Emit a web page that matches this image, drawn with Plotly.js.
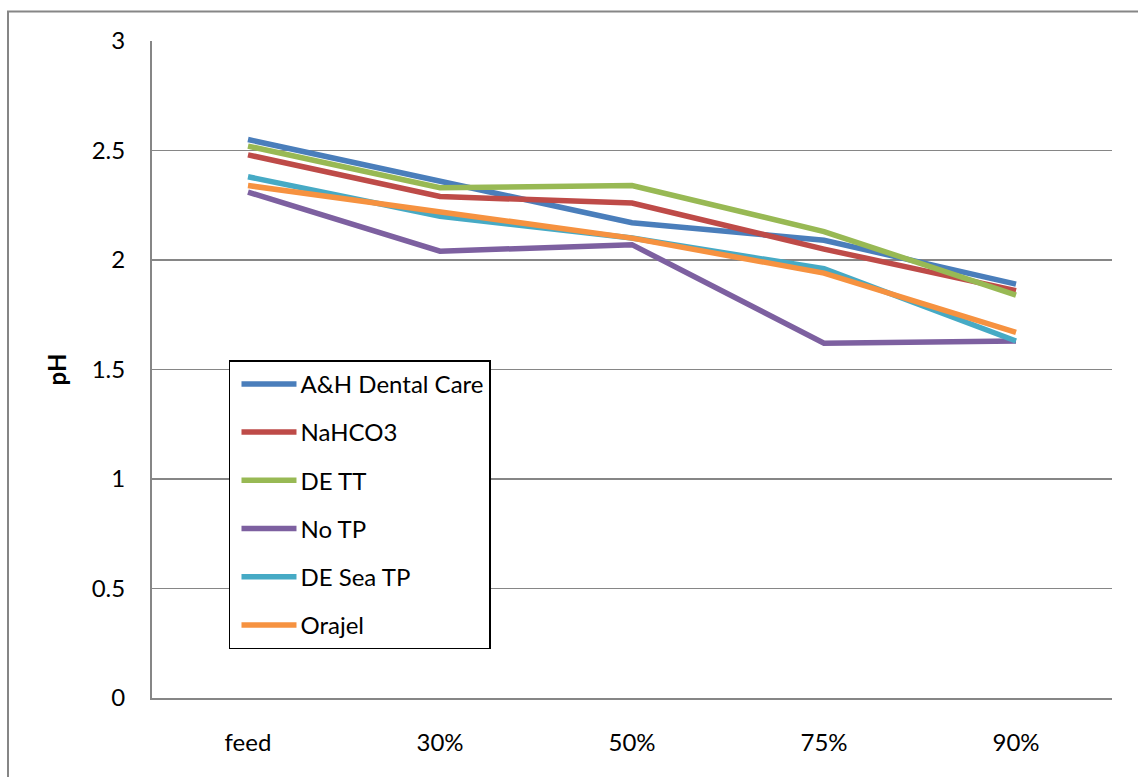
<!DOCTYPE html>
<html>
<head>
<meta charset="utf-8">
<script src="https://cdn.plot.ly/plotly-3.0.1.min.js"></script>
<style>html,body{margin:0;padding:0;background:#fff;} #chart{width:1138px;height:777px;}</style>
</head>
<body>
<div id="chart"></div>
<script>
const categories = ["feed", "30%", "50%", "75%", "90%"];
const seriesNames = ["A&H Dental Care", "NaHCO3", "DE TT", "No TP", "DE Sea TP", "Orajel"];
const ahDentalCare = [2.55, 2.36, 2.17, 2.09, 1.89];
const nahco3 = [2.48, 2.29, 2.26, 2.05, 1.86];
const deTT = [2.52, 2.33, 2.34, 2.13, 1.84];
const noTP = [2.31, 2.04, 2.07, 1.62, 1.63];
const deSeaTP = [2.38, 2.20, 2.10, 1.96, 1.63];
const orajel = [2.34, 2.22, 2.10, 1.94, 1.67];
const yTicks = [0, 0.5, 1, 1.5, 2, 2.5, 3];
const yTickText = ["0", "0.5", "1", "1.5", "2", "2.5", "3"];

const seriesValues = [ahDentalCare, nahco3, deTT, noTP, deSeaTP, orajel];
const colors = ["#4A7EBB", "#BE4B48", "#98B954", "#7D60A0", "#46AAC5", "#F69240"];

const traces = seriesValues.map((vals, i) => ({
  type: "scatter",
  mode: "lines",
  x: categories,
  y: vals,
  name: seriesNames[i],
  legendgroup: "g" + i,
  line: {color: colors[i], width: 5.5},
  hoverinfo: "x+y+name"
}));

const font = "Lato, 'Open Sans', 'Liberation Sans', sans-serif";
const layout = {
  width: 1138,
  height: 777,
  margin: {l: 152, r: 26, t: 40.5, b: 79, pad: 0},
  paper_bgcolor: "#ffffff",
  plot_bgcolor: "#ffffff",
  font: {family: font, size: 24, color: "#000000"},
  showlegend: true,
  legend: {
    x: 0.0802, y: 0.514, xanchor: "left", yanchor: "top",
    bgcolor: "#ffffff",
    bordercolor: "#000000",
    borderwidth: 1.5,
    tracegroupgap: 14,
    font: {family: font, size: 24, color: "#000000"},
    itemwidth: 60
  },
  xaxis: {
    type: "category",
    range: [-0.5, 4.5],
    showgrid: false,
    showline: true,
    linecolor: "#868686",
    linewidth: 2,
    ticks: "",
    ticklabelstandoff: 22,
    tickfont: {family: font, size: 24, color: "#000000"},
    zeroline: false,
    fixedrange: true
  },
  yaxis: {
    range: [0, 3],
    tickvals: yTicks,
    ticktext: yTickText,
    showgrid: true,
    gridcolor: "#868686",
    gridwidth: 1.5,
    showline: true,
    linecolor: "#868686",
    linewidth: 2,
    ticks: "",
    ticklabelstandoff: 20,
    zeroline: false,
    tickfont: {family: font, size: 24, color: "#000000"},
    title: {text: "<b>pH</b>", font: {family: font, size: 24, color: "#000000"}, standoff: 18},
    fixedrange: true
  },
  shapes: [{
    type: "rect", xref: "paper", yref: "paper",
    x0: -0.15, x1: 1.2, y0: -0.3, y1: 1.0449,
    line: {color: "#868686", width: 2},
    fillcolor: "rgba(0,0,0,0)",
    layer: "below"
  }]
};

Plotly.newPlot("chart", traces, layout, {displayModeBar: false, staticPlot: true}).then(gd => {
  gd.querySelectorAll(".legend .legendlines path").forEach(p => p.setAttribute("d", "M11,0h55"));
});
</script>
</body>
</html>
